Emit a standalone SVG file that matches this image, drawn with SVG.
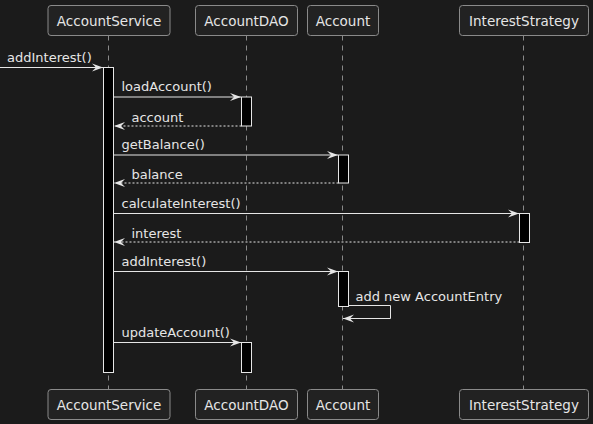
<svg xmlns="http://www.w3.org/2000/svg" width="593" height="424" viewBox="0 0 593 424">
<defs>
<style>
.bg{fill:#1b1b1b}
.pbox{fill:#222222;stroke:#8a8a8a;stroke-width:1}
.ptxt{font-family:"DejaVu Sans",sans-serif;font-size:13.5px;fill:#e6e6e6;text-anchor:middle}
.life{stroke:#8a8a8a;stroke-width:1;stroke-dasharray:5,5;fill:none}
.act{fill:#000000;stroke:#e6e6e6;stroke-width:1}
.msg{stroke:#e6e6e6;stroke-width:1;fill:none}
.ret{stroke:#e6e6e6;stroke-width:1;fill:none;stroke-dasharray:2,2}
.mtxt{font-family:"DejaVu Sans",sans-serif;font-size:13px;fill:#e6e6e6}
</style>
<marker id="ah" viewBox="0 0 12 10" refX="11" refY="5" markerWidth="12" markerHeight="10" markerUnits="userSpaceOnUse" orient="auto">
<polygon points="0,1 11,5 0,9 4,5" fill="#e6e6e6"/>
</marker>
</defs>
<rect class="bg" x="0" y="0" width="593" height="424"/>
<g id="lifelines">
<line class="life" x1="108.5" y1="35.5" x2="108.5" y2="389"/>
<line class="life" x1="246.5" y1="35.5" x2="246.5" y2="389"/>
<line class="life" x1="342.5" y1="35.5" x2="342.5" y2="389"/>
<line class="life" x1="523.5" y1="35.5" x2="523.5" y2="389"/>
</g>
<g id="AccountService">
<rect class="pbox" x="48" y="5.5" width="122" height="30" rx="3"/>
<text class="ptxt" x="109" y="25.5">AccountService</text>
<rect class="pbox" x="48" y="389.5" width="122" height="30" rx="3"/>
<text class="ptxt" x="109" y="409.5">AccountService</text>
</g>
<g id="AccountDAO">
<rect class="pbox" x="195.5" y="5.5" width="102" height="30" rx="3"/>
<text class="ptxt" x="246.5" y="25.5">AccountDAO</text>
<rect class="pbox" x="195.5" y="389.5" width="102" height="30" rx="3"/>
<text class="ptxt" x="246.5" y="409.5">AccountDAO</text>
</g>
<g id="Account">
<rect class="pbox" x="307.5" y="5.5" width="71" height="30" rx="3"/>
<text class="ptxt" x="343" y="25.5">Account</text>
<rect class="pbox" x="307.5" y="389.5" width="71" height="30" rx="3"/>
<text class="ptxt" x="343" y="409.5">Account</text>
</g>
<g id="InterestStrategy">
<rect class="pbox" x="459.5" y="5.5" width="129" height="30" rx="3"/>
<text class="ptxt" x="524" y="25.5">InterestStrategy</text>
<rect class="pbox" x="459.5" y="389.5" width="129" height="30" rx="3"/>
<text class="ptxt" x="524" y="409.5">InterestStrategy</text>
</g>
<g id="activations">
<rect class="act" x="103.5" y="67.5" width="10" height="305"/>
<rect class="act" x="241.5" y="97" width="10" height="29"/>
<rect class="act" x="338.5" y="155" width="10" height="28"/>
<rect class="act" x="519.5" y="213.5" width="10" height="29"/>
<rect class="act" x="338.5" y="271.5" width="10" height="35"/>
<rect class="act" x="241.5" y="342.5" width="10" height="30"/>
</g>
<g id="connectors">
<line class="msg" x1="0" y1="67.5" x2="103" y2="67.5" marker-end="url(#ah)"/>
<text class="mtxt" x="7" y="61.5">addInterest()</text>
<line class="msg" x1="113.5" y1="97" x2="241" y2="97" marker-end="url(#ah)"/>
<text class="mtxt" x="121.5" y="91">loadAccount()</text>
<line class="ret" x1="241.5" y1="126" x2="114" y2="126" marker-end="url(#ah)"/>
<text class="mtxt" x="131.5" y="121.5">account</text>
<line class="msg" x1="113.5" y1="155" x2="338" y2="155" marker-end="url(#ah)"/>
<text class="mtxt" x="121.5" y="149">getBalance()</text>
<line class="ret" x1="338.5" y1="183" x2="114" y2="183" marker-end="url(#ah)"/>
<text class="mtxt" x="131.5" y="178.5">balance</text>
<line class="msg" x1="113.5" y1="213.5" x2="519" y2="213.5" marker-end="url(#ah)"/>
<text class="mtxt" x="121.5" y="207.5">calculateInterest()</text>
<line class="ret" x1="519.5" y1="242" x2="114" y2="242" marker-end="url(#ah)"/>
<text class="mtxt" x="131.5" y="237.5">interest</text>
<line class="msg" x1="113.5" y1="271.5" x2="338" y2="271.5" marker-end="url(#ah)"/>
<text class="mtxt" x="121.5" y="265.5">addInterest()</text>
<polyline class="msg" points="348.5,305.5 390.5,305.5 390.5,318.5 343,318.5" marker-end="url(#ah)"/>
<text class="mtxt" x="355.5" y="300.5">add new AccountEntry</text>
<line class="msg" x1="113.5" y1="342.5" x2="241" y2="342.5" marker-end="url(#ah)"/>
<text class="mtxt" x="121.5" y="336.5">updateAccount()</text>
</g>
</svg>
